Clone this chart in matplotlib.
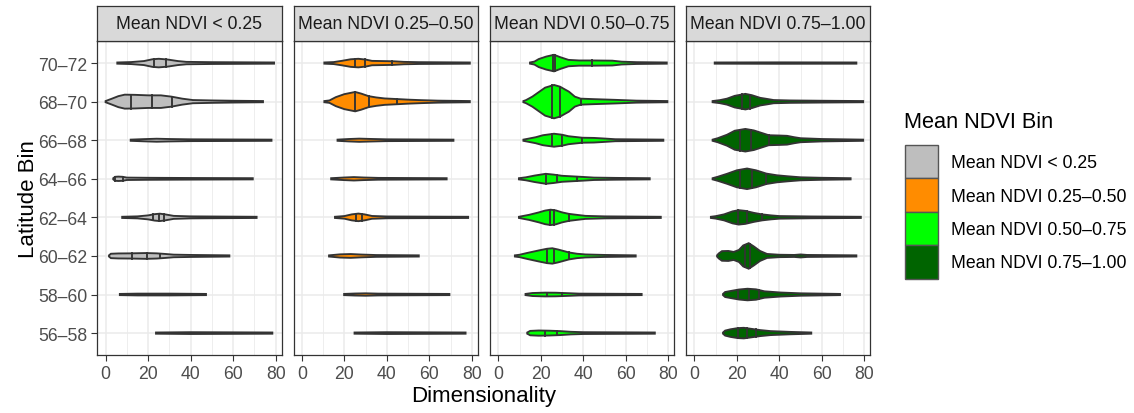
import numpy as np
import matplotlib
matplotlib.use("Agg")
import matplotlib.pyplot as plt
from matplotlib.patches import Patch

plt.rcParams['font.family'] = ['Liberation Sans', 'DejaVu Sans']

lat_bins = ["56–58", "58–60", "60–62", "62–64", "64–66", "66–68", "68–70", "70–72"]
ndvi_bins = ["Mean NDVI < 0.25", "Mean NDVI 0.25–0.50", "Mean NDVI 0.50–0.75", "Mean NDVI 0.75–1.00"]
fill_colors = ["#BEBEBE", "#FF8C00", "#00FF00", "#006400"]

# violin outlines: (dimensionality knots, half width in px, quantile lines)
# listed from 56-58 up to 70-72
gray = [
    ([23.7, 40, 78.4], [0.6, 0.9, 0.6], []),
    ([6.7, 15, 30, 47.2], [0.6, 0.9, 0.9, 0.6], []),
    ([1.6, 2.5, 6, 12, 19, 24, 28, 32, 40, 58.2], [0.6, 2.2, 2.5, 2.6, 2.9, 2.6, 2.0, 1.3, 1.0, 0.6], [12.2, 19.6, 25.6]),
    ([7.8, 15, 20, 23, 25.5, 28, 32, 40, 71], [0.6, 1.0, 2.0, 3.2, 3.7, 3.0, 1.5, 1.0, 0.6], [22.4, 25.2, 27.4]),
    ([3.6, 4.5, 6, 8, 10, 20, 40, 69.2], [0.6, 2.0, 2.2, 2.0, 1.2, 1.0, 0.8, 0.6], [4.5, 8.3]),
    ([11.8, 18, 24, 30, 40, 78], [0.6, 1.1, 1.5, 1.2, 0.9, 0.6], []),
    ([0, 3, 6, 9, 14, 20, 26, 31, 36, 41, 50, 60, 74], [0.6, 3, 5.5, 7, 6.8, 6.3, 6.3, 5.0, 3.0, 1.6, 1.2, 0.9, 0.6], [11.9, 21.6, 31.1]),
    ([5.5, 12, 18, 22, 25, 29, 34, 38, 50, 79.2], [0.6, 1.0, 2.0, 3.8, 4.3, 3.6, 2.0, 1.2, 0.9, 0.6], [22.7, 28.4]),
]
orange = [
    ([24.8, 40, 77], [0.6, 0.9, 0.6], []),
    ([19.9, 25, 30, 36, 69.4], [0.6, 1.0, 1.2, 0.9, 0.6], []),
    ([12.8, 18, 23, 28, 35, 55], [0.6, 1.6, 1.9, 1.4, 0.9, 0.6], []),
    ([15.6, 20, 23.5, 26.6, 29.5, 33, 40, 78.2], [0.6, 1.3, 3.0, 3.8, 3.0, 1.4, 0.9, 0.6], [25.4, 28.2]),
    ([13.8, 20, 24.5, 29, 36, 68.1], [0.6, 1.3, 1.7, 1.3, 0.9, 0.6], []),
    ([16.8, 22, 27, 32, 40, 71.3], [0.6, 1.2, 1.6, 1.3, 0.9, 0.6], []),
    ([10.6, 13, 16, 20, 25.1, 28, 31.4, 35, 39, 44.7, 50, 56, 64, 79], [0.6, 1.2, 4.5, 7.5, 9.7, 8.0, 5.5, 4.2, 3.2, 2.6, 2.0, 1.5, 1.0, 0.6], [25.1, 31.4, 44.7]),
    ([10.6, 15, 19, 23, 26.6, 30, 33, 38, 43, 48, 55, 79], [0.6, 1.0, 2.3, 3.8, 4.3, 3.5, 2.2, 2.0, 1.8, 1.2, 0.9, 0.6], [25.1, 29.5, 42.4]),
]
green = [
    ([13.6, 15, 19, 24, 29, 34, 40, 73.6], [0.6, 2.2, 2.6, 2.4, 2.0, 1.3, 0.9, 0.6], [21.9, 27.8]),
    ([12.8, 16, 22, 27, 32, 38, 67.4], [0.6, 1.5, 1.9, 1.8, 1.4, 0.9, 0.6], [22.9, 29.9]),
    ([7.8, 10, 13.6, 19, 22.9, 25.4, 28, 33.2, 37, 41, 50, 64.6], [0.6, 1.2, 3.0, 5.5, 7.2, 7.7, 6.5, 3.5, 2.2, 1.5, 1.0, 0.6], [22.9, 26.2, 33.2]),
    ([9.7, 14.4, 19.1, 22, 24.6, 27, 30, 33.2, 37, 41, 50, 76.4], [0.6, 2.5, 5.0, 6.8, 7.7, 7.0, 5.0, 3.5, 2.5, 1.5, 1.0, 0.6], [24.1, 26.2, 33.2]),
    ([9.7, 13, 17, 22.3, 26, 30, 38.7, 45, 55, 71.2], [0.6, 1.5, 3.2, 5.0, 4.2, 3.0, 2.0, 1.2, 0.9, 0.6], [22.3, 27.8, 37]),
    ([11.8, 14, 17.6, 21, 26.2, 30, 33, 39.5, 45, 49, 55, 77.6], [0.6, 1.5, 3.0, 5.0, 6.5, 5.5, 4.0, 2.5, 2.3, 1.8, 1.0, 0.6], [25.4, 29.8, 39.5]),
    ([11.8, 13, 16, 19, 22, 26.2, 29, 33.2, 36, 38.7, 45, 55, 65, 79.5], [0.6, 1.5, 5, 9.5, 14, 16.7, 15, 10, 5, 3.0, 2.5, 1.8, 1.0, 0.6], [25.4, 28.8, 38.7]),
    ([14.9, 17, 19, 22.5, 26.2, 29, 33, 38, 45, 53.6, 58, 65, 79.2], [0.6, 1.5, 4.0, 6.5, 8.3, 6.0, 3.2, 2.6, 2.6, 2.4, 1.4, 0.9, 0.6], [25.6, 26.8, 44.2]),
]
darkgreen = [
    ([13.5, 14.5, 17, 20.5, 23.3, 27, 31, 35.8, 45, 55], [0.6, 2.5, 3.8, 5.0, 5.3, 4.2, 3.0, 2.0, 1.2, 0.6], [20.5, 24.6, 28.8]),
    ([13.5, 14.5, 17, 21, 25, 29, 33, 40.6, 50, 68.5], [0.6, 2.5, 3.5, 5.0, 5.8, 5.2, 3.2, 2.0, 1.2, 0.6], [20.5, 25.6, 30.4]),
    ([10.7, 11.5, 13, 16, 18.5, 21, 23, 25.6, 28, 30.9, 34.2, 40, 47, 50, 53, 76.2], [0.6, 2.5, 4.8, 5.0, 4.0, 6.0, 10.5, 12.8, 9.5, 5.0, 2.0, 1.2, 1.0, 1.5, 1.0, 0.6], [24, 26.3]),
    ([7.8, 10, 14, 18, 20.9, 24, 28, 31.9, 36, 40, 55, 78.3], [0.6, 1.2, 3.0, 6.0, 7.2, 6.5, 4.5, 3.0, 2.0, 1.3, 0.9, 0.6], [20.5, 24.9, 31.9]),
    ([8.6, 11, 15.4, 20, 24.8, 29, 33.9, 38.9, 44, 50, 60, 73.5], [0.6, 2.0, 5.0, 8.5, 10.3, 8.5, 5.2, 3.5, 2.5, 1.5, 1.0, 0.6], [21.3, 27.2, 33.9]),
    ([8.6, 11, 15.4, 19, 24, 28, 35, 40, 43.6, 47, 50, 60, 79.4], [0.6, 2.0, 5.5, 9.5, 11.3, 9.8, 5.0, 4.7, 4.4, 3.0, 2.0, 1.2, 0.6], [21.6, 26.8, 35]),
    ([8.6, 12, 15.4, 19, 24, 27, 31, 33.4, 37.3, 45, 60, 79.4], [0.6, 1.5, 3.0, 5.8, 7.8, 6.5, 3.8, 3.0, 1.6, 1.2, 0.9, 0.6], [22.4, 26]),
    ([9.6, 40, 76.2], [0.6, 0.7, 0.6], []),
]
panels = [gray, orange, green, darkgreen]

W, H = 1134, 414
px_per_row = 38.6
line_col = "#333333"

fig = plt.figure(figsize=(W / 100, H / 100), dpi=100)

panel_left = [97.3, 293.5, 490, 686]
panel_w = 184.4
panel_top, panel_bot = 41.7, 355.7
strip_top = 6.7

for i, violins in enumerate(panels):
    ax = fig.add_axes([panel_left[i] / W, 1 - panel_bot / H, panel_w / W, (panel_bot - panel_top) / H])
    ax.set_xlim(-3.9, 82.8)
    ax.set_ylim(0.44, 8.58)
    ax.set_xticks([0, 20, 40, 60, 80])
    ax.set_xticks([10, 30, 50, 70], minor=True)
    ax.set_yticks(range(1, 9))
    ax.grid(which='major', color='#EBEBEB', lw=1.1, zorder=0)
    ax.grid(which='minor', axis='x', color='#EBEBEB', lw=0.6, zorder=0)
    ax.set_axisbelow(True)
    ax.tick_params(axis='both', which='major', length=4.3, width=0.8, color=line_col,
                   labelsize=12.7, labelcolor='#4D4D4D', pad=3)
    ax.tick_params(which='minor', length=0)
    if i == 0:
        ax.set_yticklabels(lat_bins)
    else:
        ax.tick_params(axis='y', length=0, labelleft=False)
    for s in ax.spines.values():
        s.set_color(line_col)
        s.set_linewidth(0.9)

    for j, (xs, ws, qs) in enumerate(violins):
        pos = j + 1
        xs = np.array(xs)
        hw = np.array(ws) / px_per_row
        px = np.concatenate([xs, xs[::-1]])
        py = np.concatenate([pos + hw, (pos - hw)[::-1]])
        ax.fill(px, py, facecolor=fill_colors[i], edgecolor=line_col, lw=1.35, zorder=3)
        for q in qs:
            h = np.interp(q, xs, hw)
            ax.plot([q, q], [pos - h, pos + h], color=line_col, lw=1.35, zorder=4)

    sax = fig.add_axes([panel_left[i] / W, 1 - panel_top / H, panel_w / W, (panel_top - strip_top) / H])
    sax.set_facecolor('#D9D9D9')
    sax.set_xticks([])
    sax.set_yticks([])
    for s in sax.spines.values():
        s.set_color(line_col)
        s.set_linewidth(0.9)
    sax.text(0.5, 0.5, ndvi_bins[i], ha='center', va='center', fontsize=12.7, color='#1A1A1A',
             transform=sax.transAxes)

fig.text((97.3 + 870) / 2 / W, 1 - 397 / H, "Dimensionality", ha='center', va='center', fontsize=16)
fig.text(28 / W, 1 - 199 / H, "Latitude Bin", ha='center', va='center', rotation=90, fontsize=16)

# legend: title as its own text, keys stacked underneath
fig.text(904 / W, 1 - 123 / H, "Mean NDVI Bin", ha='left', va='center', fontsize=15.7)
handles = [Patch(facecolor=c, edgecolor='#555555', lw=1.0) for c in fill_colors]
leg = fig.legend(handles, ndvi_bins, loc='upper left',
                 bbox_to_anchor=(905 / W, 1 - 146 / H), frameon=False,
                 fontsize=12.7, handlelength=1.88, handleheight=2.54,
                 labelspacing=0.0, handletextpad=0.72, borderpad=0, borderaxespad=0)

fig.savefig("out.png", dpi=100)
